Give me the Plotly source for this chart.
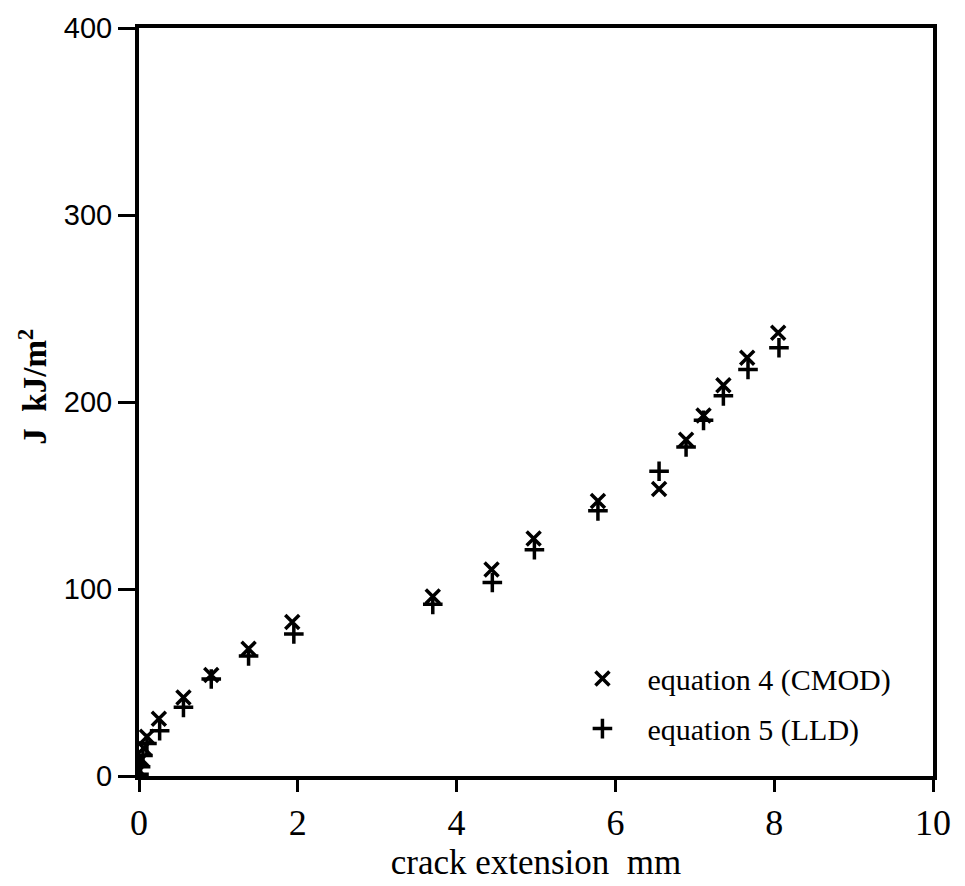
import plotly.graph_objects as go

# J-resistance data: crack extension (mm) against J (kJ/m^2)
cmod_da = [0.0, 0.03, 0.06, 0.10, 0.25, 0.56, 0.91, 1.38, 1.93, 3.70, 4.44, 4.97, 5.78, 6.55, 6.89, 7.11, 7.36, 7.66, 8.05]
cmod_j = [3, 9, 15, 21, 30.6, 42, 54, 68, 82.4, 96, 110.4, 127, 147, 153.5, 179.8, 192.8, 209, 223.7, 237]

lld_da = [0.0, 0.02, 0.05, 0.10, 0.26, 0.56, 0.91, 1.38, 1.95, 3.70, 4.45, 4.98, 5.78, 6.55, 6.89, 7.11, 7.36, 7.67, 8.06]
lld_j = [1, 5, 11, 17.4, 24.2, 36.7, 51.9, 64.2, 76.0, 91.8, 103.5, 121, 141.8, 163, 176, 190.2, 203.3, 217.4, 229]

x_ticks = [0, 2, 4, 6, 8, 10]
y_ticks = [0, 100, 200, 300, 400]

SERIF = "Liberation Serif, Times New Roman, serif"
SANS = "Liberation Sans, Arial, sans-serif"

fig = go.Figure()
fig.add_trace(go.Scatter(
    x=cmod_da, y=cmod_j, mode="markers", name="equation 4 (CMOD)",
    legendgroup="a",
    marker=dict(symbol="x-thin", size=14, color="black",
                line=dict(color="black", width=3.5)),
))
fig.add_trace(go.Scatter(
    x=lld_da, y=lld_j, mode="markers", name="equation 5 (LLD)",
    legendgroup="b",
    marker=dict(symbol="cross-thin", size=14, color="black",
                line=dict(color="black", width=3.5)),
))

fig.update_layout(
    width=965, height=886,
    margin=dict(l=139, r=32, t=17, b=108),
    paper_bgcolor="white", plot_bgcolor="white",
    showlegend=True,
    legend=dict(
        x=0.527, y=0.165, xanchor="left", yanchor="top",
        bgcolor="rgba(0,0,0,0)", borderwidth=0,
        font=dict(family=SERIF, size=30, color="black"),
        tracegroupgap=8, traceorder="grouped", itemwidth=80,
    ),
    annotations=[dict(
        text="<b>J\u00a0\u00a0kJ/m<sup>2</sup></b>",
        xref="paper", yref="paper", x=-0.134, y=0.52,
        xanchor="center", yanchor="middle", textangle=-90,
        showarrow=False,
        font=dict(family=SERIF, size=33, color="black"),
    )],
)

fig.update_xaxes(
    range=[0, 10], tickvals=x_ticks, ticktext=[str(v) for v in x_ticks],
    showgrid=False, zeroline=False,
    showline=True, linecolor="black", linewidth=4, mirror=True,
    ticks="outside", ticklen=12, tickwidth=3, tickcolor="black",
    tickfont=dict(family=SERIF, size=36, color="black"),
    title=dict(text="crack extension\u00a0\u00a0mm", standoff=6,
               font=dict(family=SERIF, size=35, color="black")),
)
fig.update_yaxes(
    range=[0, 400], tickvals=y_ticks, ticktext=[str(v) for v in y_ticks],
    showgrid=False, zeroline=False,
    showline=True, linecolor="black", linewidth=4, mirror=True,
    ticks="outside", ticklen=17, tickwidth=3, tickcolor="black",
    tickfont=dict(family=SANS, size=29, color="black"),
)

fig.write_html("out.html")
